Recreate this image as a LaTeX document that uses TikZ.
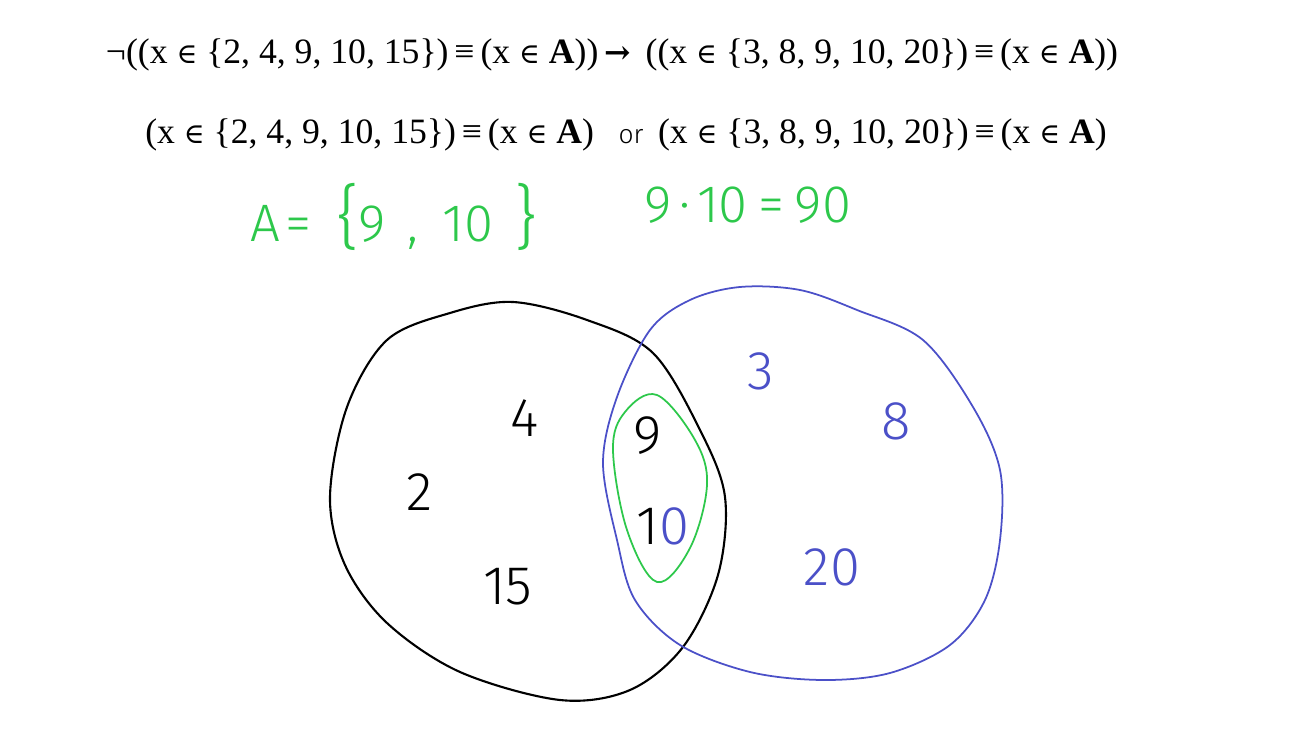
\documentclass[tikz,border=0pt]{standalone}
\usepackage{fontspec}
\setmainfont{Liberation Serif}
\newfontfamily\symfont{DejaVu Serif}
\newfontfamily\hand{Fira Sans Light}
\usepackage{tikz}
\definecolor{handgreen}{RGB}{45,200,75}
\definecolor{handblue}{RGB}{75,80,200}
\newcommand{\isin}{{\symfont\fontsize{16}{16}\selectfont ∈}}

\begin{document}
\begin{tikzpicture}[
  x=0.02cm, y=-0.02cm,
  eq/.style={font=\fontsize{20.3}{20}\selectfont, inner sep=0pt},
  num/.style={font=\hand\fontsize{31}{31}\selectfont, inner sep=0pt},
  note/.style={font=\hand\fontsize{30}{30}\selectfont, text=handgreen, inner sep=0pt},
  ring/.style={draw=#1, line width=1pt, line join=round},
]
\useasboundingbox[fill=white] (0,0) rectangle (1299,730);
% formulas
\node[eq] (impl) at (612,55) {¬((x \isin{} \{2, 4, 9, 10, 15\})\,≡\,(x \isin{} \textbf{A}))\,{\symfont\bfseries\fontsize{18}{18}\selectfont →}\, ((x \isin{} \{3, 8, 9, 10, 20\})\,≡\,(x \isin{} \textbf{A}))};
\node[eq, anchor=west] (left) at (145,135) {(x \isin{} \{2, 4, 9, 10, 15\})\,≡\,(x \isin{} \textbf{A})};
\node[font=\hand\fontsize{15}{15}\selectfont, inner sep=0pt] (or) at (631,137) {or};
\node[eq, anchor=east] (right) at (1107,135) {(x \isin{} \{3, 8, 9, 10, 20\})\,≡\,(x \isin{} \textbf{A})};
\node[note] (setA) at (394,217) {A\hspace{3pt}=\hspace{14pt}{\fontsize{40}{40}\selectfont\{}9\hspace{12pt},\hspace{14pt}10\hspace{12pt}{\fontsize{40}{40}\selectfont\}}};
\node[note] (prod) at (748,205) {9\hspace{4pt}·\hspace{4pt}10\hspace{6pt}=\hspace{6pt}90};
% sets
\draw[ring=black, line width=1.2pt] plot[smooth cycle, tension=0.55] coordinates {
  (513,302) (587,320) (653,353) (700,430) (725,497) (718,575) (683,647)
  (630,690) (560,700) (460,672) (387,623) (345,565) (330,497) (347,407)
  (387,340) (450,313)};
\draw[ring=handblue] plot[smooth cycle, tension=0.55] coordinates {
  (740,287) (800,290) (857,310) (923,340) (973,407) (1000,470) (1000,540)
  (985,600) (950,645) (890,673) (823,680) (750,672) (680,645) (635,600)
  (617,540) (603,463) (617,397) (650,330) (690,300)};
\draw[ring=handgreen] plot[smooth cycle, tension=0.6] coordinates {
  (657,395) (695,440) (707,485) (690,548) (657,582) (627,530) (613,450) (625,412)};
% elements
\node[num] (n4) at (525,418) {4};
\node[num] (n2) at (420,492) {2};
\node[num] (n15) at (508,587) {15};
\node[num] (n9) at (648,436) {9};
\node[num] (n10) at (663,526) {1\textcolor{handblue}{0}};
\node[num, text=handblue] (n3) at (761,371) {3};
\node[num, text=handblue] (n8) at (896,421) {8};
\node[num, text=handblue] (n20) at (832,567) {20};
\end{tikzpicture}
\end{document}
